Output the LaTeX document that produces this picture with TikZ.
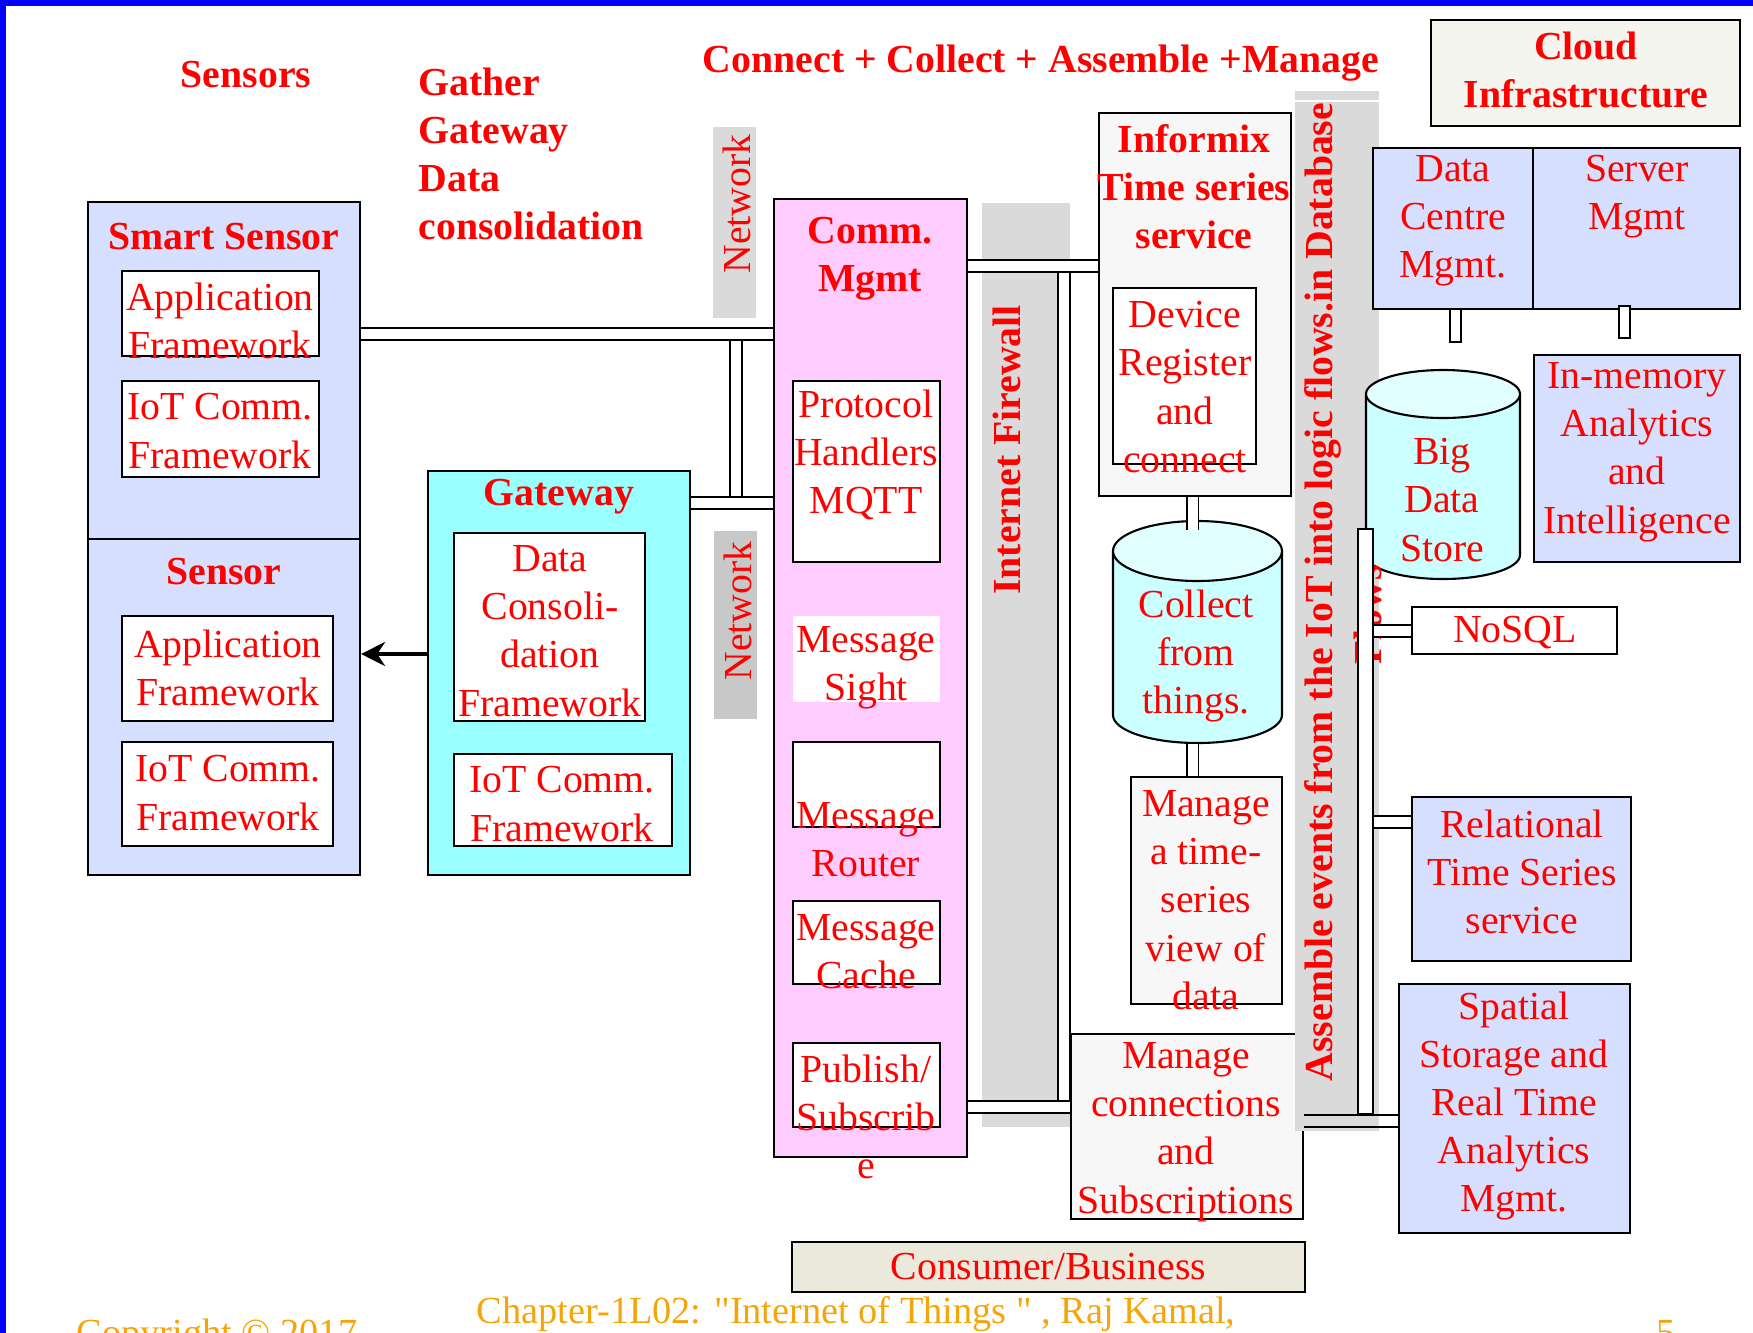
\documentclass[tikz,border=0pt]{standalone}
\usepackage{fontspec}
\setmainfont{Liberation Serif}
\usetikzlibrary{fit,arrows.meta}

\definecolor{sensorblue}{RGB}{214,223,253}
\definecolor{gatecyan}{RGB}{153,255,255}
\definecolor{commpink}{RGB}{255,204,255}
\definecolor{palegray}{RGB}{247,247,247}
\definecolor{wallgray}{RGB}{218,218,218}
\definecolor{netdark}{RGB}{200,200,200}
\definecolor{cloudbeige}{RGB}{245,245,240}
\definecolor{consumerbeige}{RGB}{235,233,220}
\definecolor{drumcyan}{RGB}{204,255,255}
\definecolor{drumtop}{RGB}{226,255,255}
\definecolor{footorange}{RGB}{245,165,10}

\begin{document}
\begin{tikzpicture}[x=0.01cm, y=-0.01cm,
    txt/.style={text=red, font=\fontsize{11.3}{13.7}\selectfont, align=center, inner sep=0pt},
    head/.style={txt, font=\fontsize{11.3}{13.7}\selectfont\bfseries},
    foot/.style={text=footorange, font=\fontsize{10.9}{13}\selectfont, inner sep=0pt},
    box/.style={draw=black, line width=0.6pt, inner sep=0pt},
    band/.style={fill=wallgray, draw=none, inner sep=0pt},
    pipe/.style={draw=black, line width=0.5pt, double=white, double distance=1mm},
    stub/.style={draw=black, line width=0.5pt, fill=white}]
    \useasboundingbox (0,0) rectangle (1753,1332);
    \clip (0,0) rectangle (1753,1332);

    % Frame
    \draw[blue, line width=0.6mm] (3,1340) -- (3,3) -- (1760,3);

    % Headings
    \node[head] (sensorsT) at (246,75) {Sensors};
    \node[head, align=left, anchor=west] (gatherT) at (418,154) {Gather\\Gateway\\Data\\consolidation};
    \node[head] (connectT) at (1041,63) {Connect + Collect + Assemble +Manage};
    \node[box, fill=cloudbeige, fit={(1431,20) (1740,126)}] (cloud) {};
    \node[head] (cloudT) at (1586,70) {Cloud\\Infrastructure};

    % Gray bands
    \node[band, fit={(713,127) (756,318)}] (netTop) {};
    \node[txt, rotate=90] (netTopT) at (737,204) {Network};
    \node[band, fill=netdark, fit={(714,531) (757,719)}] (netBot) {};
    \node[txt, rotate=90] (netBotT) at (738,611) {Network};
    \node[band, fit={(982,203) (1070,1127)}] (firewall) {};
    \node[head, rotate=90] (firewallT) at (1007,450) {Internet Firewall};

    % Smart sensor
    \node[box, fill=sensorblue, fit={(88,202) (360,539)}] (smart) {};
    \node[head] (smartT) at (224,237) {Smart Sensor};
    \node[box, fill=white, fit={(122,271) (319,356)}] (smartApp) {};
    \node[txt] (smartAppT) at (220,321) {Application\\Framework};
    \node[box, fill=white, fit={(122,381) (319,477)}] (smartIot) {};
    \node[txt] (smartIotT) at (220,431) {IoT Comm.\\Framework};

    % Sensor
    \node[box, fill=sensorblue, fit={(88,539) (360,875)}] (sensor) {};
    \node[head] (sensorT) at (224,572) {Sensor};
    \node[box, fill=white, fit={(122,616) (333,721)}] (sensorApp) {};
    \node[txt] (sensorAppT) at (228,668) {Application\\Framework};
    \node[box, fill=white, fit={(122,742) (333,846)}] (sensorIot) {};
    \node[txt] (sensorIotT) at (228,793) {IoT Comm.\\Framework};

    % Gateway
    \node[box, fill=gatecyan, fit={(428,471) (690,875)}] (gateway) {};
    \node[head] (gatewayT) at (559,497) {Gateway};
    \node[box, fill=white, fit={(454,533) (645,721)}] (consol) {};
    \node[txt] (consolT) at (550,631) {Data\\Consoli-\\dation\\Framework};
    \node[box, fill=white, fit={(454,754) (672,846)}] (gateIot) {};
    \node[txt] (gateIotT) at (562,804) {IoT Comm.\\Framework};

    % Comm. Mgmt
    \node[box, fill=commpink, fit={(774,199) (967,1157)}] (comm) {};
    \node[head] (commT) at (870,259) {Comm.\\Mgmt};
    \node[box, fill=white, fit={(793,381) (940,562)}] (protocol) {};
    \node[txt] (protocolT) at (866,455) {Protocol\\Handlers\\MQTT};
    \node[fill=white, inner sep=0pt, fit={(793,616) (940,702)}] (sight) {};
    \node[txt] (sightT) at (866,668) {Message\\Sight};
    \node[box, fill=white, fit={(793,742) (940,827)}] (router) {};
    \node[txt] (routerT) at (866,840) {Message\\Router};
    \node[box, fill=white, fit={(793,901) (940,984)}] (cache) {};
    \node[txt] (cacheT) at (866,952) {Message\\Cache};
    \node[box, fill=white, fit={(793,1043) (940,1127)}] (pubsub) {};
    \node[txt] (pubsubT) at (866,1117) {Publish/\\Subscrib\\e};

    % Informix column
    \node[box, fill=palegray, fit={(1099,113) (1291,496)}] (informix) {};
    \node[head] (informixT) at (1194,187) {Informix\\Time series\\service};
    \node[box, fill=white, fit={(1113,288) (1256,464)}] (device) {};
    \node[txt] (deviceT) at (1185,387) {Device\\Register\\and\\connect};
    \node[inner sep=0pt, fit={(1113,521) (1282,743)}] (collect) {};
    \fill[drumcyan] (1113,551) -- (1113,715) arc[start angle=180, end angle=0, x radius=84.5, y radius=28] -- (1282,551) -- cycle;
    \draw[line width=0.6pt] (1113,551) -- (1113,715) arc[start angle=180, end angle=0, x radius=84.5, y radius=28] -- (1282,551);
    \draw[line width=0.6pt, fill=drumtop] (1197.5,551) ellipse [x radius=84.5, y radius=30];
    \node[txt] (collectT) at (1196,656) {Collect\\from\\things.};
    \node[box, fill=palegray, fit={(1131,777) (1282,1004)}] (timeview) {};
    \node[txt] (timeviewT) at (1206,900) {Manage\\a time-\\series\\view of\\data};
    \node[box, fill=palegray, fit={(1071,1034) (1303,1219)}] (connmgr) {};
    \node[txt] (connmgrT) at (1186,1132) {Manage\\connections\\and\\Subscriptions};

    % Assemble band
    \node[band, fit={(1295,91) (1379,1131)}] (assemble) {};
    \draw[white, line width=0.8pt] (1295,101) -- (1379,101);
    \node[head, rotate=90] (assembleT) at (1323,592) {Assemble events from the IoT into logic flows.in Database};

    % Cloud side
    \node[box, fill=sensorblue, fit={(1373,148) (1533,309)}] (centre) {};
    \node[txt] (centreT) at (1453,221) {Data\\Centre\\Mgmt.};
    \node[box, fill=sensorblue, fit={(1533,148) (1740,309)}] (server) {};
    \node[txt] (serverT) at (1637,197) {Server\\Mgmt};
    \draw[stub] (1450,309) rectangle (1461,342);
    \draw[stub] (1619,306) rectangle (1630,338);
    \node[inner sep=0pt, fit={(1366,370) (1520,579)}] (bigdata) {};
    \fill[drumcyan] (1366,394) -- (1366,555) arc[start angle=180, end angle=0, x radius=77, y radius=24] -- (1520,394) -- cycle;
    \draw[line width=0.6pt] (1366,394) -- (1366,555) arc[start angle=180, end angle=0, x radius=77, y radius=24] -- (1520,394);
    \draw[line width=0.6pt, fill=drumtop] (1443,394) ellipse [x radius=77, y radius=24];
    \node[txt] (bigdataT) at (1442,500) {Big\\Data\\Store};
    \node[box, fill=sensorblue, fit={(1534,355) (1740,562)}] (inmemory) {};
    \node[txt] (inmemoryT) at (1637,452) {In-memory\\Analytics\\and\\Intelligence};
    \node[box, fill=white, fit={(1412,607) (1617,654)}] (nosql) {};
    \node[txt] (nosqlT) at (1515,633) {NoSQL};
    \node[box, fill=sensorblue, fit={(1412,797) (1631,961)}] (relational) {};
    \node[txt] (relationalT) at (1522,872) {Relational\\Time Series\\service};
    \node[box, fill=sensorblue, fit={(1399,984) (1630,1233)}] (spatial) {};
    \node[txt] (spatialT) at (1514,1106) {Spatial\\Storage and\\Real Time\\Analytics\\Mgmt.};

    % Hidden second line of the band text
    \begin{scope}
        \clip (1340,530) rectangle (1381,700);
        \node[head, rotate=90] (flowsT) at (1368,615) {Flows};
    \end{scope}

    % Consumer
    \node[box, fill=consumerbeige, fit={(792,1242) (1305,1292)}] (consumer) {};
    \node[txt] (consumerT) at (consumer.center) {Consumer/Business};

    % Pipes
    \coordinate (upperY) at (0,334);
    \coordinate (gateY) at (0,503);
    \coordinate (arrowY) at (0,654);
    \coordinate (informixY) at (0,266);
    \coordinate (connY) at (0,1107);
    \coordinate (nosqlY) at (0,631);
    \coordinate (relY) at (0,822);
    \coordinate (spatialY) at (0,1121);
    \coordinate (leftBusTop) at (736,334);
    \coordinate (leftBusBot) at (736,503);
    \coordinate (wallBusTop) at (1064,266);
    \coordinate (wallBusBot) at (1064,1107);

    \draw[pipe] (leftBusTop) -- (leftBusBot);
    \draw[pipe] (smart.east |- upperY) -- (comm.west |- upperY);
    \draw[pipe] (gateway.east |- gateY) -- (comm.west |- gateY);
    \draw[-{Stealth[length=2.4mm, width=2.4mm]}, line width=1pt] (gateway.west |- arrowY) -- (sensor.east |- arrowY);

    \draw[pipe] (wallBusTop) -- (wallBusBot);
    \draw[pipe] (comm.east |- informixY) -- (informix.west |- informixY);
    \draw[pipe] (comm.east |- connY) -- (connmgr.west |- connY);

    \draw[pipe] (informix.south -| 1192.5,0) -- (collect.north -| 1192.5,0) -- ++(0,10);
    \draw[pipe] (collect.south -| 1192.5,0) -- (timeview.north -| 1192.5,0);

    \node[stub, inner sep=0pt, fit={(1358,529) (1373,1114)}] (flowbus) {};
    \draw[pipe] (flowbus.east |- nosqlY) -- (nosql.west |- nosqlY);
    \draw[pipe] (flowbus.east |- relY) -- (relational.west |- relY);
    \draw[pipe] (connmgr.east |- spatialY) -- (spatial.west |- spatialY);
    \fill[wallgray] (1304,1116) rectangle (1379,1126);

    % Footer
    \node[foot, anchor=base] (copyT) at (217,1345) {Copyright © 2017};
    \node[foot, anchor=base] (chapterT) at (856,1323) {Chapter-1L02: \textquotedbl Internet of Things \textquotedbl\ , Raj Kamal,};
    \node[foot, anchor=base] (pageT) at (1666,1345) {5};
\end{tikzpicture}
\end{document}
